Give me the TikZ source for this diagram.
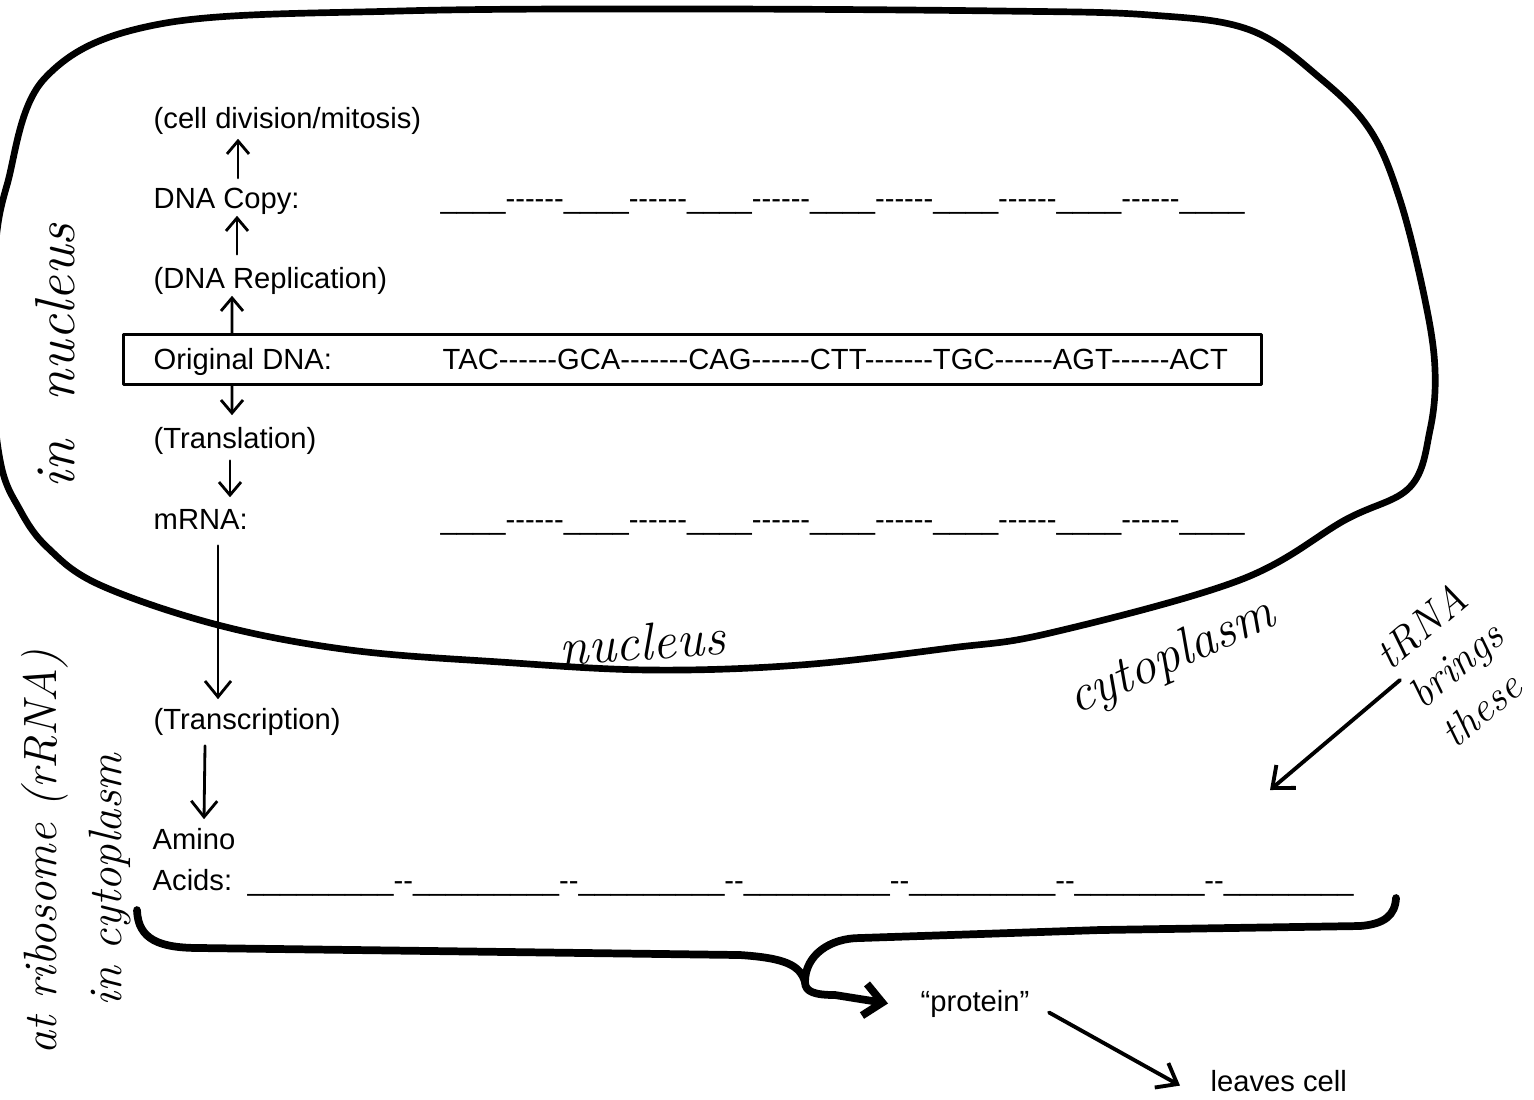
\documentclass[tikz,border=0pt]{standalone}
\usepackage{fontspec}
\newfontfamily\arialfont{Liberation Sans}
\usepackage{tikz}
\usetikzlibrary{arrows.meta}

\begin{document}
\begin{tikzpicture}[x=1cm,y=-1cm,>={Straight Barb[length=1.3mm,width=2.2mm]},line cap=round,line join=round,
  typed/.style={anchor=base west,inner sep=0pt,font=\arialfont\fontsize{8.3}{10}\selectfont},
  hand/.style={inner sep=0pt,font=\normalfont\itshape\fontsize{#1}{#1}\selectfont},
  flow/.style={->,line width=0.8pt}]
\useasboundingbox (0,0) rectangle (15.34,10.99);
% nucleus outline
\begin{scope}
\clip (0,0) rectangle (15.34,10.99);
\draw[line width=1.9pt] plot[smooth cycle,tension=0.6] coordinates {(0.07,1.85) (0.45,0.78) (1.60,0.24) (4.00,0.11) (7.00,0.09) (10.00,0.11) (11.50,0.15) (12.50,0.30) (13.20,0.78) (13.70,1.30) (14.00,2.00) (14.25,3.00) (14.35,3.70) (14.30,4.30) (14.10,4.87) (13.45,5.20) (12.40,5.80) (10.50,6.33) (9.50,6.48) (8.00,6.65) (6.50,6.70) (5.00,6.62) (3.50,6.50) (2.18,6.25) (1.00,5.85) (0.48,5.48) (0.20,5.10) (0.00,4.60) (-0.10,3.50) (-0.05,2.50)};
\end{scope}
% typed labels
\node[typed] (division) at (1.53,1.28) {(cell division/mitosis)};
\node[typed] (copy) at (1.53,2.08) {DNA Copy:};
\node[typed] (copyline) at (4.40,2.08) {\_\_\_\_------\_\_\_\_------\_\_\_\_------\_\_\_\_------\_\_\_\_------\_\_\_\_------\_\_\_\_};
\node[typed] (replication) at (1.53,2.88) {(DNA Replication)};
\node[draw,line width=0.9pt,inner sep=0pt,anchor=north west,minimum width=11.38cm,minimum height=0.50cm] (dnabox) at (1.22,3.33) {};
\node[typed] (original) at (1.53,3.69) {Original DNA:};
\node[typed] (sequence) at (4.42,3.69) {TAC------GCA-------CAG------CTT-------TGC------AGT------ACT};
\node[typed] (translation) at (1.53,4.48) {(Translation)};
\node[typed] (mrna) at (1.53,5.29) {mRNA:};
\node[typed] (mrnaline) at (4.40,5.29) {\_\_\_\_------\_\_\_\_------\_\_\_\_------\_\_\_\_------\_\_\_\_------\_\_\_\_------\_\_\_\_};
\node[typed] (transcription) at (1.53,7.29) {(Transcription)};
\node[typed] (amino) at (1.52,8.49) {Amino};
\node[typed] (acids) at (1.52,8.90) {Acids:};
\node[typed] (acidline) at (2.47,8.90) {\_\_\_\_\_\_\_\_\_--\_\_\_\_\_\_\_\_\_--\_\_\_\_\_\_\_\_\_--\_\_\_\_\_\_\_\_\_--\_\_\_\_\_\_\_\_\_--\_\_\_\_\_\_\_\_--\_\_\_\_\_\_\_\_};
\node[typed] (protein) at (9.20,10.11) {“protein”};
\node[typed] (leaves) at (12.10,10.91) {leaves cell};
% handwritten notes
\node[hand=16,rotate=90] (innucleus) at (0.55,3.56) {in\ \ nucleus};
\node[hand=15,rotate=4] (nucleus) at (6.42,6.42) {nucleus};
\node[hand=15,rotate=24] (cytoplasm) at (11.72,6.58) {cytoplasm};
\node[inner sep=0pt,font=\normalfont\itshape\fontsize{12}{14.5}\selectfont,align=left,rotate=40] (trna) at (14.55,6.64) {tRNA\\brings\\these};
\node[hand=13.3,rotate=90] (ribosome) at (0.45,8.52) {at ribosome (rRNA)};
\node[hand=13.3,rotate=90] (incyto) at (1.10,8.80) {in cytoplasm};
% flow arrows
\draw[flow] ([shift={(0.85,-0.09)}]copy.north west) -- ([shift={(0.85,0.04)}]division.south west);
\draw[flow] ([shift={(0.84,-0.12)}]replication.north west) -- ([shift={(0.84,0.01)}]copy.south west);
\draw[flow] ([xshift=1.10cm]dnabox.north west) -- ([shift={(0.79,0.01)}]replication.south west);
\draw[flow] ([xshift=1.10cm]dnabox.south west) -- ([shift={(0.79,-0.11)}]translation.north west);
\draw[flow] ([shift={(0.77,0.06)}]translation.south west) -- ([shift={(0.77,-0.11)}]mrna.north west);
\draw[flow,>={Straight Barb[length=1.6mm,width=2.6mm]}] ([shift={(0.65,0.16)}]mrna.south west) -- ([shift={(0.65,-0.08)}]transcription.north west);
\draw[flow,>={Straight Barb[length=1.6mm,width=2.6mm]}] ([shift={(0.52,0.10)}]transcription.south west) -- ([shift={(0.52,-0.08)}]amino.north west);
% brace under the amino acids
\coordinate (knot) at (8.05,9.82);
\draw[line width=2.2pt] (1.37,9.10) .. controls (1.38,9.40) and (1.60,9.48) .. (2.00,9.48) -- (7.40,9.55) .. controls (7.85,9.58) and (8.00,9.65) .. (knot);
\draw[line width=2.2pt] (knot) .. controls (8.05,9.55) and (8.30,9.38) .. (8.60,9.38) -- (11.00,9.30) -- (13.60,9.26) .. controls (13.85,9.24) and (13.95,9.15) .. (13.96,8.98);
\draw[line width=2.2pt,->,>={Straight Barb[length=1.8mm,width=3.2mm]}] (knot) .. controls (8.05,9.92) and (8.15,9.95) .. (8.35,9.95) -- ([xshift=-0.32cm]protein.west);
\draw[flow,line width=1.1pt,>={Straight Barb[length=1.8mm,width=2.8mm]}] ([shift={(0.19,0.09)}]protein.east) -- ([shift={(-0.30,0.05)}]leaves.west);
% tRNA pointer
\coordinate (trnastart) at (14.00,6.80);
\coordinate (trnatip) at (12.70,7.90);
\draw[flow,line width=1.1pt,>={Straight Barb[length=1.8mm,width=3mm]}] (trnastart) -- (trnatip);
\end{tikzpicture}
\end{document}
